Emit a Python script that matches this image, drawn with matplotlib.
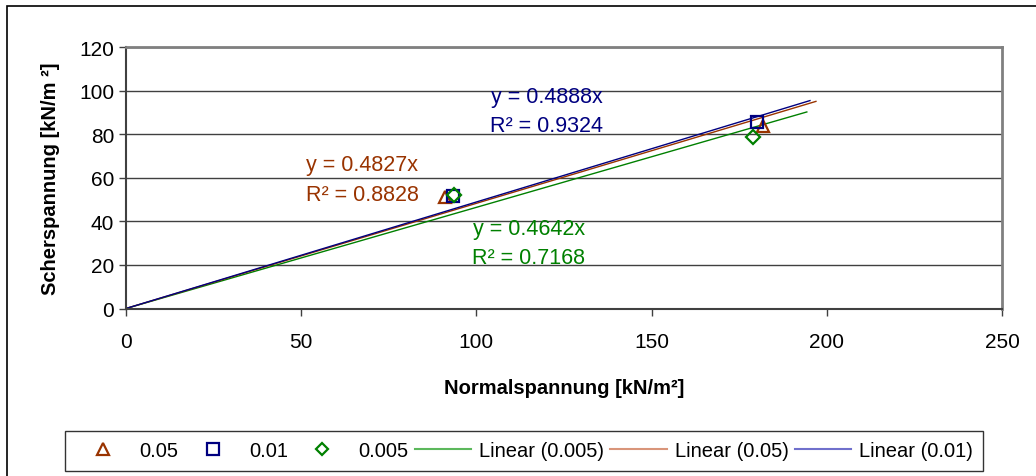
import matplotlib.pyplot as plt
from matplotlib.lines import Line2D
from matplotlib.patches import Rectangle

plt.rcParams['font.family'] = ['Liberation Sans', 'DejaVu Sans']

# Messpunkte
x_005 = [91.0, 181.8]
y_005 = [51.0, 83.8]
x_001 = [93.3, 180.1]
y_001 = [51.6, 85.6]
x_0005 = [93.6, 178.9]
y_0005 = [52.1, 78.7]

# Trendlinien durch den Ursprung
slopes = {'0.05': 0.4827, '0.01': 0.4888, '0.005': 0.4642}
r2 = {'0.05': 0.8828, '0.01': 0.9324, '0.005': 0.7168}
x_end = {'0.05': 196.9, '0.01': 195.2, '0.005': 194.3}

c_orange = '#993300'
c_blue = '#000080'
c_green = '#008000'

fig = plt.figure(figsize=(10.36, 4.77), dpi=100)
ax = fig.add_axes([126 / 1036, 1 - 309.5 / 477, 876 / 1036, 261.5 / 477])

# Trendlinien
ax.plot([0, x_end['0.005']], [0, slopes['0.005'] * x_end['0.005']], color=c_green, lw=1)
ax.plot([0, x_end['0.05']], [0, slopes['0.05'] * x_end['0.05']], color=c_orange, lw=1)
ax.plot([0, x_end['0.01']], [0, slopes['0.01'] * x_end['0.01']], color=c_blue, lw=1)

# Punkte
ax.plot(x_005, y_005, ls='none', marker='^', ms=9, mfc='none', mec=c_orange, mew=1.6)
ax.plot(x_001, y_001, ls='none', marker='s', ms=9, mfc='none', mec=c_blue, mew=1.6)
ax.plot(x_0005, y_0005, ls='none', marker='D', ms=7, mfc='none', mec=c_green, mew=1.6)

# Gleichungen
fs = 15
fa = 15.5
ax.text(120.1, 97.5, 'y = %.4fx' % slopes['0.01'], color=c_blue, fontsize=fa, ha='center', va='center')
ax.text(120.1, 84.2, 'R² = %.4f' % r2['0.01'], color=c_blue, fontsize=fa, ha='center', va='center')
ax.text(67.4, 65.9, 'y = %.4fx' % slopes['0.05'], color=c_orange, fontsize=fa, ha='center', va='center')
ax.text(67.4, 52.5, 'R² = %.4f' % r2['0.05'], color=c_orange, fontsize=fa, ha='center', va='center')
ax.text(115.0, 36.5, 'y = %.4fx' % slopes['0.005'], color=c_green, fontsize=fa, ha='center', va='center')
ax.text(115.0, 23.6, 'R² = %.4f' % r2['0.005'], color=c_green, fontsize=fa, ha='center', va='center')

ax.set_xlim(0, 250)
ax.set_ylim(0, 120)
ax.set_xticks([0, 50, 100, 150, 200, 250])
ax.set_yticks([0, 20, 40, 60, 80, 100, 120])
ax.tick_params(labelsize=fs, length=5, color='#404040', width=1, direction='out')
ax.tick_params(axis='x', pad=12)
ax.grid(axis='y', color='#404040', lw=1)
ax.set_axisbelow(True)
for s in ['top', 'right']:
    ax.spines[s].set_color('#808080')
    ax.spines[s].set_linewidth(2)
for s in ['left', 'bottom']:
    ax.spines[s].set_color('#404040')
    ax.spines[s].set_linewidth(1.5)

ax.set_xlabel('Normalspannung [kN/m²]', fontsize=14.5, fontweight='bold', labelpad=19)
ax.set_ylabel('Scherspannung [kN/m ²]', fontsize=14.5, fontweight='bold', labelpad=14)

# Legende
handles = [
    Line2D([], [], ls='none', marker='^', ms=8, mfc='none', mec=c_orange, mew=1.6),
    Line2D([], [], ls='none', marker='s', ms=8, mfc='none', mec=c_blue, mew=1.6),
    Line2D([], [], ls='none', marker='D', ms=6, mfc='none', mec=c_green, mew=1.6),
    Line2D([], [], color='#5cb85c', lw=1.5),
    Line2D([], [], color='#d9957a', lw=1.5),
    Line2D([], [], color='#7070cc', lw=1.5),
]
labels = ['0.05', '0.01', '0.005', 'Linear (0.005)', 'Linear (0.05)', 'Linear (0.01)']
leg = fig.legend(handles, labels, loc='center', bbox_to_anchor=(524 / 1036, 1 - 452 / 477),
                 ncol=6, fontsize=14.5, frameon=True, fancybox=False, handlelength=2.8,
                 columnspacing=0.3, handletextpad=0.4, borderpad=0.5)
leg.get_frame().set_edgecolor('black')
leg.get_frame().set_linewidth(1)

# Rahmen des Diagrammbereichs
fig.patches.append(Rectangle((7 / 1036, -0.1), 1.2, 1 - 7 / 477 + 0.1, transform=fig.transFigure,
                             fill=False, edgecolor='black', lw=1.2))

fig.savefig('out.png', dpi=100)
